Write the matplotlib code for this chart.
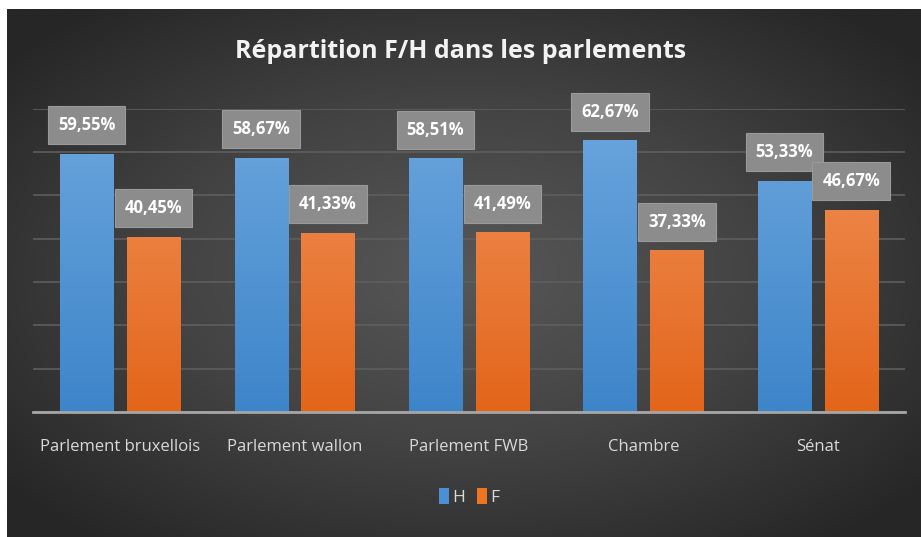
import numpy as np
import matplotlib
matplotlib.use("Agg")
import matplotlib.pyplot as plt
from matplotlib.colors import LinearSegmentedColormap
from matplotlib.patches import Patch

categories = ["Parlement bruxellois", "Parlement wallon", "Parlement FWB", "Chambre", "Sénat"]
h_values = [59.55, 58.67, 58.51, 62.67, 53.33]
f_values = [40.45, 41.33, 41.49, 37.33, 46.67]
series_names = ["H", "F"]

FONT = ['Liberation Sans Narrow', 'Open Sans', 'DejaVu Sans']
plt.rcParams['font.family'] = FONT

W, H = 921, 537
fig = plt.figure(figsize=(W / 100, H / 100), dpi=100)
fig.patch.set_facecolor('white')

# background with radial gradient
bg = fig.add_axes([7 / W, 0, 1 - 7 / W, 1 - 9 / H])
bg.set_axis_off()
yy, xx = np.mgrid[-1:1:300j, -1:1:500j]
r = np.sqrt(xx ** 2 + yy ** 2)
r = np.clip(r / 1.3, 0, 1)
cmap_bg = LinearSegmentedColormap.from_list('bg', ['#575757', '#434343', '#262626'])
bg.imshow(r, cmap=cmap_bg, aspect='auto', extent=[0, 1, 0, 1], vmin=0, vmax=1)
bg.set_xlim(0, 1)
bg.set_ylim(0, 1)

ax = fig.add_axes([33 / W, 125 / H, (905 - 33) / W, (428.5 - 125) / H])
ax.patch.set_alpha(0)
x = np.arange(len(categories))
width = 0.305
off = 0.192

blue_cmap = LinearSegmentedColormap.from_list('b', ['#3d85c9', '#6ca6de'])
orange_cmap = LinearSegmentedColormap.from_list('o', ['#e3651a', '#f0935c'])

bars_h = ax.bar(x - off, h_values, width, color='#5b9bd5', zorder=3)
bars_f = ax.bar(x + off, f_values, width, color='#ed7d31', zorder=3)

grad = np.linspace(0, 1, 256).reshape(-1, 1)
for bars, cm in ((bars_h, blue_cmap), (bars_f, orange_cmap)):
    for b in bars:
        x0 = b.get_x()
        w = b.get_width()
        im = ax.imshow(grad, cmap=cm, aspect='auto', origin='lower',
                       extent=[x0, x0 + w, 0, 70], zorder=4)
        im.set_clip_path(b)

ax.set_xlim(-0.5, len(categories) - 0.5)
ax.set_ylim(0, 70)
ax.set_yticks(np.arange(0, 71, 10))
ax.yaxis.grid(True, color='#5e5e5e', lw=1.2, zorder=0)
ax.tick_params(axis='y', left=False, labelleft=False)
ax.tick_params(axis='x', bottom=False, colors='#d9d9d9', labelsize=12, pad=16)
ax.set_xticks(x)
ax.set_xticklabels(categories)
for s in ['top', 'right', 'left']:
    ax.spines[s].set_visible(False)
ax.spines['bottom'].set_color('#a6a6a6')
ax.spines['bottom'].set_linewidth(2)
ax.spines['bottom'].set_zorder(5)

def label(bars, vals):
    for b, v in zip(bars, vals):
        txt = f"{v:.2f}".replace('.', ',') + "%"
        ax.annotate(txt, (b.get_x() + b.get_width() / 2, v), xytext=(0, 20.5),
                    textcoords='offset points', ha='center', va='center',
                    color='white', fontsize=12, fontweight='bold', zorder=6,
                    bbox=dict(boxstyle='square,pad=0.6', fc='#8c8c8c', ec='#9a9a9a', lw=0.8))

label(bars_h, h_values)
label(bars_f, f_values)

fig.text(0.5, 1 - 52 / H, "Répartition F/H dans les parlements", ha='center', va='center',
         color='#f2f2f2', fontsize=18, fontweight='bold')

handles = [Patch(facecolor='#4a90d6'), Patch(facecolor='#ed7420')]
fig.legend(handles, series_names, loc='center', bbox_to_anchor=(469 / W, 1 - 497 / H),
           ncol=2, frameon=False, handlelength=0.55, handleheight=1.0, handletextpad=0.2,
           columnspacing=0.7, fontsize=12.5, labelcolor='#d9d9d9')

fig.savefig('out.png', dpi=100, facecolor=fig.get_facecolor())
